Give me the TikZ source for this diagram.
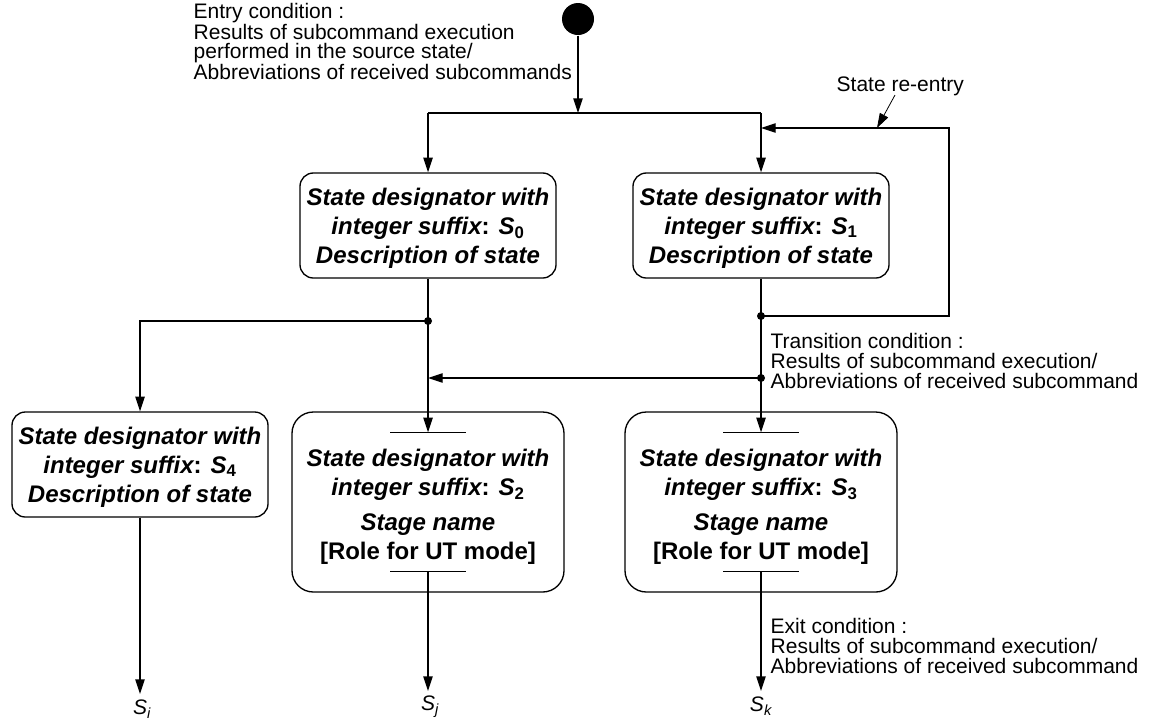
\documentclass[tikz,border=0pt]{standalone}
\usepackage{fontspec}
\setmainfont{Liberation Sans}
\usetikzlibrary{arrows.meta,calc}
\newcommand{\boxfont}{\fontsize{18}{21.75}\selectfont\bfseries}
\newcommand{\lblfont}{\fontsize{15.75}{15}\selectfont}
\newcommand{\entryfont}{\fontsize{15.75}{14.1}\selectfont}
\newcommand{\ssub}[1]{\textsubscript{\upshape #1}}
\begin{document}
\begin{tikzpicture}[x=0.75pt,y=-0.75pt,line width=1pt,
  arr/.style={-{Triangle[length=11pt,width=7pt]}},
  smallbox/.style={draw,rounded corners=10pt,minimum width=192pt,minimum height=78.75pt,inner sep=0pt,align=center,font=\boxfont},
  bigbox/.style={draw,rounded corners=16pt,minimum width=204pt,minimum height=135pt,inner sep=0pt,align=center,font=\boxfont},
  lbl/.style={align=left,inner sep=0pt,font=\lblfont},
  dot/.style={circle,fill,inner sep=0pt,minimum size=6pt},
  term/.style={inner sep=0pt,font=\lblfont\itshape}]
\useasboundingbox (0,0) rectangle (1149,719);

% start
\node[circle,fill,inner sep=0pt,minimum size=24pt] (init) at (578,19) {};
\node[lbl,font=\entryfont,anchor=north west] (entry) at (193,3)
  {Entry condition :\\Results of subcommand execution\\performed in the source state/\\Abbreviations of received subcommands};

% states
\node[smallbox] (S0) at (428,225.5) {};
\node[smallbox] (S1) at (761,225.5) {};
\node[smallbox] (S4) at (140,464.5) {};
\node[align=center,font=\boxfont,inner sep=0pt] (T0) at (428,228) {\itshape State designator with\\\itshape integer suffix\upshape{:} \itshape S\ssub{0}\\\itshape Description of state};
\node[align=center,font=\boxfont,inner sep=0pt] (T1) at (761,228) {\itshape State designator with\\\itshape integer suffix\upshape{:} \itshape S\ssub{1}\\\itshape Description of state};
\node[align=center,font=\boxfont,inner sep=0pt] (T4) at (140,467) {\itshape State designator with\\\itshape integer suffix\upshape{:} \itshape S\ssub{4}\\\itshape Description of state};
\node[bigbox] (S2) at (428,502) {};
\node[bigbox] (S3) at (761,502) {};
\node[align=center,font=\boxfont,inner sep=0pt] (T2) at (428,507) {\itshape State designator with\\\itshape integer suffix\upshape{:} \itshape S\ssub{2}\\[4.5pt]\itshape Stage name\\{}[Role for UT mode]};
\node[align=center,font=\boxfont,inner sep=0pt] (T3) at (761,507) {\itshape State designator with\\\itshape integer suffix\upshape{:} \itshape S\ssub{3}\\[4.5pt]\itshape Stage name\\{}[Role for UT mode]};

% entry/exit bars
\coordinate (S2t) at ($(S2.north)+(0,21)$);
\coordinate (S2b) at ($(S2.south)+(0,-21)$);
\coordinate (S3t) at ($(S3.north)+(0,21)$);
\coordinate (S3b) at ($(S3.south)+(0,-21)$);
\draw ($(S2t)+(-38,0)$) -- ($(S2t)+(38,0)$);
\draw ($(S2b)+(-38,0)$) -- ($(S2b)+(38,0)$);
\draw ($(S3t)+(-38,0)$) -- ($(S3t)+(38,0)$);
\draw ($(S3b)+(-38,0)$) -- ($(S3b)+(38,0)$);

% entry connectors
\coordinate (e0) at (578,113);
\coordinate (e1) at (428,113);
\coordinate (e2) at (761,113);
\draw[arr] (init) -- (e0);
\draw (e1) -- (e2);
\draw[arr] (e1) -- (S0.north);
\draw[arr] (e2) -- (S1.north);

% re-entry
\node[dot] (d1) at (761,316) {};
\coordinate (r1) at (949,316);
\coordinate (r2) at (949,128);
\coordinate (r3) at (761,128);
\draw (S1.south) -- (d1.center);
\draw[arr] (d1.center) -- (r1) -- (r2) -- (r3);
\node[lbl,anchor=west] (re) at (836,86) {State re-entry};
\coordinate (rp) at (895,95);
\coordinate (r4) at (877,128);
\draw[arr,line width=0.6pt] (rp) -- (r4);

% transition
\node[dot] (d2) at (761,378) {};
\draw (d1.center) -- (d2.center);
\draw[arr] (d2.center) -- (S3t);
\coordinate (c4) at (428,378);
\draw[arr] (d2.center) -- (c4);
\node[lbl,anchor=north west] (tc) at (770,333)
  {Transition condition :\\Results of subcommand execution/\\Abbreviations of received subcommand};

% S0 outputs
\node[dot] (d3) at (428,321) {};
\draw (S0.south) -- (d3.center);
\draw[arr] (d3.center) -- (S2t);
\coordinate (c5) at (140,321);
\draw[arr] (d3.center) -- (c5) -- (S4.north);

% exits
\node[term] (Si) at (142,709) {S\textsubscript{i}};
\node[term] (Sj) at (430,707) {S\textsubscript{j}};
\node[term] (Sk) at (761,706) {S\textsubscript{k}};
\coordinate (x4) at (140,694);
\coordinate (x2) at (428,691);
\coordinate (x3) at (761,691);
\draw[arr] (S4.south) -- (x4);
\draw[arr] (S2b) -- (x2);
\draw[arr] (S3b) -- (x3);
\node[lbl,anchor=north west] (ec) at (770,618)
  {Exit condition :\\Results of subcommand execution/\\Abbreviations of received subcommand};
\end{tikzpicture}
\end{document}
